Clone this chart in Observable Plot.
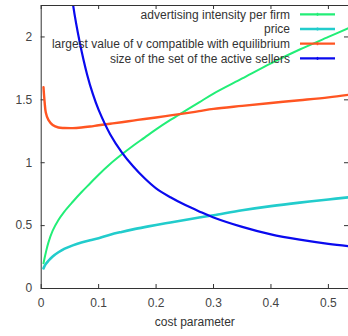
<!DOCTYPE html>
<html>
<head>
<meta charset="utf-8">
<script src="https://cdn.jsdelivr.net/npm/d3@7"></script>
<script src="https://cdn.jsdelivr.net/npm/@observablehq/plot@0.6"></script>
<style>
  html, body { margin: 0; padding: 0; background: #fff; }
  #chart svg { display: block; }
</style>
</head>
<body>
<div id="chart"></div>
<script>
// ---- data ----
const costParam = [0.004, 0.006, 0.008, 0.0125, 0.02, 0.03, 0.04, 0.055, 0.07, 0.085, 0.1, 0.12, 0.14, 0.16, 0.18, 0.2, 0.225, 0.25, 0.275, 0.3, 0.35, 0.4, 0.45, 0.5, 0.535];
const advertising = [0.20, 0.245, 0.285, 0.365, 0.46, 0.545, 0.61, 0.69, 0.765, 0.835, 0.905, 0.99, 1.065, 1.135, 1.20, 1.265, 1.34, 1.41, 1.48, 1.55, 1.67, 1.79, 1.90, 2.00, 2.07];
const price = [0.16, 0.18, 0.195, 0.22, 0.255, 0.288, 0.315, 0.343, 0.365, 0.383, 0.40, 0.428, 0.45, 0.47, 0.488, 0.505, 0.525, 0.545, 0.565, 0.583, 0.622, 0.655, 0.683, 0.708, 0.725];
const largestV = [1.60, 1.48, 1.40, 1.34, 1.30, 1.28, 1.276, 1.275, 1.28, 1.288, 1.298, 1.31, 1.322, 1.335, 1.348, 1.36, 1.376, 1.392, 1.41, 1.428, 1.452, 1.475, 1.497, 1.52, 1.54];
const costParamSize = [0.05, 0.055, 0.067, 0.08, 0.09, 0.1, 0.12, 0.14, 0.16, 0.18, 0.2, 0.225, 0.25, 0.275, 0.3, 0.35, 0.4, 0.45, 0.5, 0.535];
const sizeActive = [2.47, 2.27, 1.96, 1.70, 1.545, 1.42, 1.227, 1.085, 0.972, 0.876, 0.796, 0.725, 0.665, 0.613, 0.565, 0.49, 0.43, 0.388, 0.355, 0.337];

const seriesNames = ["advertising intensity per firm", "price", "largest value of v compatible with equilibrium", "size of the set of the active sellers"];
const seriesColors = ["#22ee77", "#22cccc", "#ff5522", "#0a0aee"];
const xTicks = [0, 0.1, 0.2, 0.3, 0.4, 0.5];
const yTicks = [0, 0.5, 1, 1.5, 2];
const xLabel = "cost parameter";

// ---- build tables ----
const rowsA = costParam.map((x, i) => ({x, v: advertising[i]}));
const rowsP = costParam.map((x, i) => ({x, v: price[i]}));
const rowsL = costParam.map((x, i) => ({x, v: largestV[i]}));
const rowsS = costParamSize.map((x, i) => ({x, v: sizeActive[i]}));

// ---- layout ----
const W = 348, H = 336;
const mL = 40.7, mR = 0, mT = 5, mB = 48;
const innerW = W - mL - mR, innerH = H - mT - mB;
const tickLen = 4;
const fmt = d => String(d);
const axisColor = "#333";

const chart = Plot.plot({
  width: W, height: H,
  marginLeft: mL, marginRight: mR, marginTop: mT, marginBottom: mB,
  style: {fontFamily: "'Liberation Sans', Arial, sans-serif", fontSize: "12px", background: "#fff", overflow: "visible"},
  x: {domain: [0, 0.535]},
  y: {domain: [0, 2.25]},
  marks: [
    Plot.axisX({ticks: xTicks, tickSize: 0, tickPadding: 10, tickFormat: fmt, fill: "#444", label: null}),
    Plot.axisY({ticks: yTicks, tickSize: 0, tickPadding: 9, tickFormat: fmt, fill: "#444", label: null}),
    // inward ticks (bottom/top/left/right)
    Plot.ruleX(xTicks, {x: d => d, insetTop: innerH - tickLen, stroke: axisColor}),
    Plot.ruleX(xTicks, {x: d => d, insetBottom: innerH - tickLen, stroke: axisColor}),
    Plot.ruleY(yTicks, {y: d => d, insetRight: innerW - tickLen, stroke: axisColor}),
    Plot.ruleY(yTicks, {y: d => d, insetLeft: innerW - tickLen, stroke: axisColor}),
    Plot.line(rowsA, {x: "x", y: "v", stroke: seriesColors[0], strokeWidth: 2, curve: "catmull-rom", clip: true}),
    Plot.line(rowsP, {x: "x", y: "v", stroke: seriesColors[1], strokeWidth: 2.6, curve: "catmull-rom", clip: true}),
    Plot.line(rowsL, {x: "x", y: "v", stroke: seriesColors[2], strokeWidth: 2.4, curve: "catmull-rom", clip: true}),
    Plot.line(rowsS, {x: "x", y: "v", stroke: seriesColors[3], strokeWidth: 2.2, curve: "catmull-rom", clip: true}),
    Plot.frame({stroke: axisColor, strokeWidth: 1}),
    Plot.text([xLabel], {frameAnchor: "bottom", dy: 37, fill: "#333", fontSize: 12})
  ]
});

// ---- legend inside the plot (top-right) ----
const svg = d3.select(chart);
const lg = svg.append("g").attr("font-family", "'Liberation Sans', Arial, sans-serif").attr("font-size", 12);
const textRight = W - 58, lineX1 = W - 48, lineX2 = W - 13, rowTop = 14.3, rowStep = 14.7;
seriesNames.forEach((name, i) => {
  const yy = rowTop + i * rowStep;
  lg.append("text").attr("x", textRight).attr("y", yy).attr("dy", "0.35em")
    .attr("text-anchor", "end").attr("fill", "#333").text(name);
  lg.append("line").attr("x1", lineX1).attr("x2", lineX2).attr("y1", yy).attr("y2", yy)
    .attr("stroke", seriesColors[i]).attr("stroke-width", i === 1 ? 2.6 : 2.2);
  const cx = (lineX1 + lineX2) / 2;
  lg.append("line").attr("x1", cx).attr("x2", cx).attr("y1", yy - 1.5).attr("y2", yy + 1.5)
    .attr("stroke", seriesColors[i]).attr("stroke-width", 1.5);
});

document.getElementById("chart").appendChild(chart);
</script>
</body>
</html>
